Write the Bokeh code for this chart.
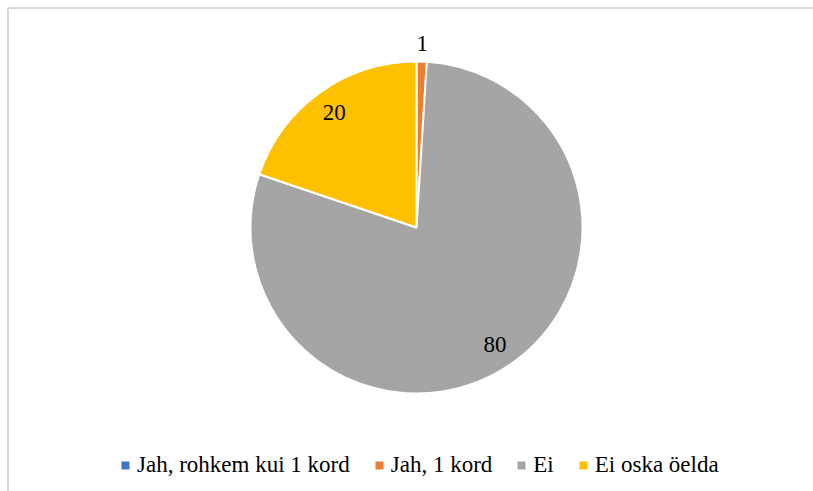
import math
from bokeh.plotting import figure
from bokeh.models import ColumnDataSource, Range1d, Legend, LegendItem
from bokeh.core.properties import value
from bokeh.embed import file_html
from bokeh.resources import INLINE

categories = ["Jah, rohkem kui 1 kord", "Jah, 1 kord", "Ei", "Ei oska öelda"]
values = [0, 1, 80, 20]
colors = ["#4472C4", "#ED7D31", "#A5A5A5", "#FFC000"]

W, H = 813, 491
p = figure(width=W, height=H, output_backend="svg", toolbar_location=None,
           x_range=Range1d(0, W), y_range=Range1d(0, H),
           min_border=0, background_fill_color="white", border_fill_color="white")
p.axis.visible = False
p.grid.visible = False
p.outline_line_color = None

# chart-area border (top and left edges visible)
p.line(x=[7.5, 7.5, W + 5], y=[-5, H - 7.5, H - 7.5], line_color="#D9D9D9", line_width=2)

cx, cy, R = 416, 491 - 227, 166
total = sum(values)
starts, ends, lx, ly, lt = [], [], [], [], []
cum = 0
for v in values:
    a0 = math.pi / 2 - 2 * math.pi * cum / total
    a1 = math.pi / 2 - 2 * math.pi * (cum + v) / total
    starts.append(a0)
    ends.append(a1)
    cum += v
    if v > 0:
        mid = (a0 + a1) / 2
        r = R * 0.85 if v / total > 0.05 else R + 18
        lx.append(cx + r * math.cos(mid))
        ly.append(cy + r * math.sin(mid))
        lt.append(str(v))

src = ColumnDataSource(dict(x=[cx] * len(values), y=[cy] * len(values),
                            start=starts, end=ends, color=colors, cat=categories))
p.wedge(x="x", y="y", radius=R, radius_units="screen", start_angle="start",
        end_angle="end", direction="clock", fill_color="color",
        line_color="white", line_width=2, source=src)

p.text(x=lx, y=ly, text=lt, text_font=value("Liberation Serif"),
       text_font_size="23px", text_align="center", text_baseline="middle",
       text_color="#000000")

leg_src = ColumnDataSource(dict(x=[float("nan")] * len(values), y=[float("nan")] * len(values),
                                color=colors, cat=categories))
lr = p.rect(x="x", y="y", width=1, height=1, fill_color="color", line_color=None,
            source=leg_src)
items = [LegendItem(label=c, renderers=[lr], index=i) for i, c in enumerate(categories)]
legend = Legend(items=items, orientation="horizontal", location=(120, 13),
                glyph_width=10, glyph_height=10, label_standoff=7, spacing=24,
                label_text_font="Liberation Serif", label_text_font_size="23px",
                label_text_color="#000000", padding=0, margin=0,
                border_line_color=None, background_fill_alpha=0)
p.add_layout(legend, "center")

open("out.html", "w").write(file_html(p, INLINE))
